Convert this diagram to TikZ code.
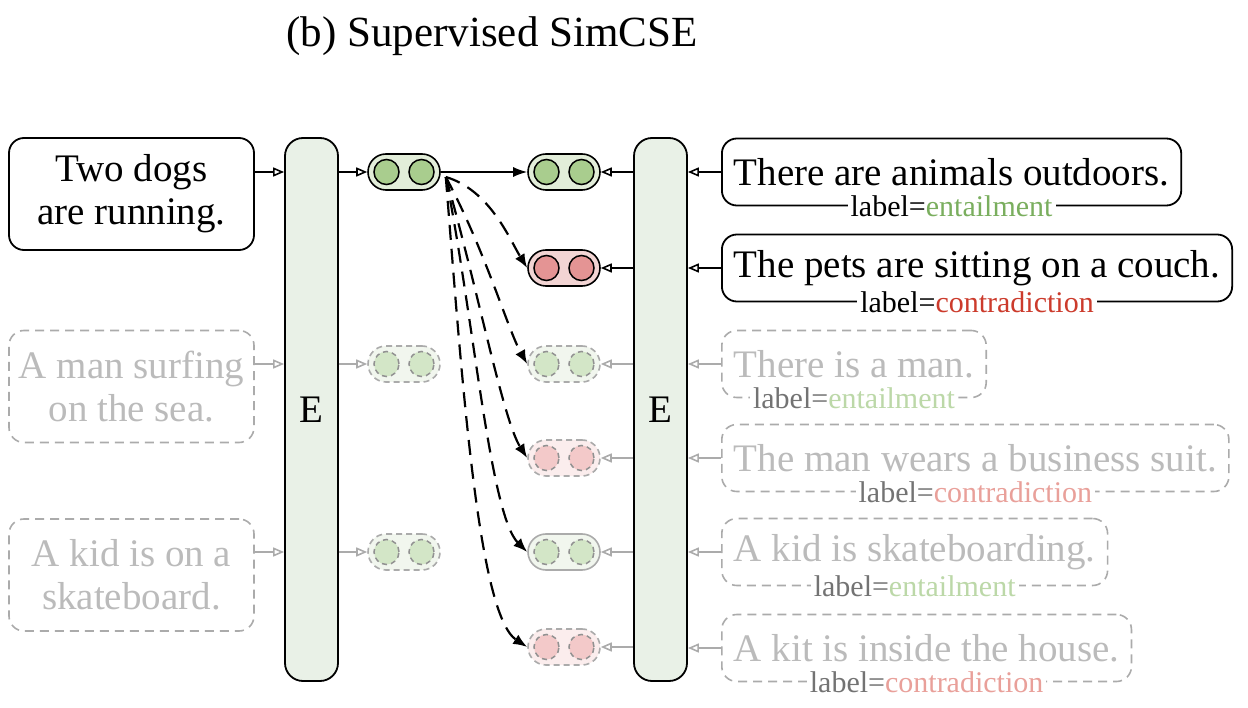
\documentclass[tikz,border=0pt]{standalone}
\usepackage{fontspec}
\setmainfont{Liberation Serif}
\usetikzlibrary{arrows.meta,calc}
\definecolor{encfill}{HTML}{E9F1E7}
\definecolor{pg}{HTML}{E2EDD9}
\definecolor{cg}{HTML}{A9CD8E}
\definecolor{pr}{HTML}{F2D4D3}
\definecolor{cr}{HTML}{E49494}
\definecolor{fpg}{HTML}{F1F6EE}
\definecolor{fcg}{HTML}{D3E6C7}
\definecolor{fpr}{HTML}{FBEDED}
\definecolor{fcr}{HTML}{F3C9C9}
\definecolor{fadeline}{HTML}{ABABAB}
\definecolor{fadetext}{HTML}{BBBBBB}
\definecolor{fadelab}{HTML}{737373}
\definecolor{entc}{HTML}{7AAE5E}
\definecolor{conc}{HTML}{CC3B2C}
\definecolor{fentc}{HTML}{BCD8A8}
\definecolor{fconc}{HTML}{E9A09A}
\newcommand\mypill[5]{%
  \node[pillbase,#4] (#1) at (#2,#3) {};
  \node[circbase,#5] (#1a) at ($(#1)+(-17.5,0)$) {};
  \node[circbase,#5] (#1b) at ($(#1)+(17.5,0)$) {};
}
\tikzset{
  bigfont/.style={font=\fontsize{39}{43}\selectfont},
  sbox/.style={draw, rounded corners=15pt, line width=1.8pt, align=center, bigfont},
  fbox/.style={draw=fadeline, dash pattern=on 9pt off 6pt, rounded corners=15pt, line width=1.6pt, align=center, bigfont, text=fadetext},
  rbox/.style={anchor=west, minimum height=67pt, inner xsep=12pt, inner ysep=0pt},
  labnode/.style={fill=white, inner xsep=3pt, inner ysep=0pt, font=\fontsize{30}{32}\selectfont},
  enc/.style={draw, fill=encfill, rounded corners=18pt, line width=1.8pt, minimum width=53pt, minimum height=543pt, bigfont},
  pillbase/.style={rectangle, rounded corners=18pt, minimum width=72pt, minimum height=36pt, line width=1.6pt},
  circbase/.style={circle, minimum size=25pt, inner sep=0pt, line width=1.5pt},
  pG/.style={draw, fill=pg}, cG/.style={draw, fill=cg},
  pR/.style={draw, fill=pr}, cR/.style={draw, fill=cr},
  fpG/.style={draw=fadeline, fill=fpg, dash pattern=on 6pt off 4pt},
  fpGs/.style={draw=fadeline, fill=fpg},
  fcG/.style={draw=fadeline!85!black, fill=fcg, dash pattern=on 5pt off 4pt},
  fpR/.style={draw=fadeline, fill=fpr, dash pattern=on 6pt off 4pt},
  fcR/.style={draw=fadeline!85!black, fill=fcr, dash pattern=on 5pt off 4pt},
  oarr/.style={-{Triangle[open,length=11pt,width=9pt]}, line width=1.6pt},
  foarr/.style={oarr, draw=fadeline},
  sarr/.style={-{Latex[length=14pt,width=10pt]}, line width=1.6pt},
  darr/.style={-{Latex[length=14pt,width=11pt]}, line width=2.2pt, dash pattern=on 15pt off 9pt},
}
\begin{document}
\begin{tikzpicture}
\useasboundingbox (0,-708pt) rectangle (1248pt,0);
\begin{scope}[x=1pt,y=1pt]
\node[font=\fontsize{43}{48}\selectfont] (title) at (492,-36) {(b) Supervised SimCSE};

% left sentences
\node[sbox, minimum width=245pt, minimum height=112pt] (l1) at (131.5,-194) {Two dogs\\are running.};
\node[fbox, minimum width=245pt, minimum height=112pt] (l2) at (131.5,-386.5) {A man surfing\\on the sea.};
\node[fbox, minimum width=245pt, minimum height=112pt] (l3) at (131.5,-575) {A kid is on a\\skateboard.};

% encoders
\node[enc] (E1) at (311.5,-409.5) {E};
\node[enc] (E2) at (660.5,-409.5) {E};

% pills
\mypill{pL1}{404}{-172}{pG}{cG}
\mypill{pL2}{404}{-364}{fpG}{fcG}
\mypill{pL3}{404}{-552}{fpG}{fcG}
\mypill{pR1}{564}{-172}{pG}{cG}
\mypill{pR2}{564}{-268}{pR}{cR}
\mypill{pR3}{564}{-364}{fpG}{fcG}
\mypill{pR4}{564}{-458}{fpR}{fcR}
\mypill{pR5}{564}{-552}{fpGs}{fcG}
\mypill{pR6}{564}{-647}{fpR}{fcR}

% right sentences
\node[sbox, rbox] (r1) at (721,-172) {There are animals outdoors.};
\node[labnode] (r1l) at (r1.south) {label=\textcolor{entc}{entailment}};
\node[sbox, rbox] (r2) at (721,-268) {The pets are sitting on a couch.};
\node[labnode] (r2l) at (r2.south) {label=\textcolor{conc}{contradiction}};
\node[fbox, rbox] (r3) at (721,-364) {There is a man.};
\node[labnode, text=fadelab] (r3l) at (r3.south) {label=\textcolor{fentc}{entailment}};
\node[fbox, rbox] (r4) at (721,-458) {The man wears a business suit.};
\node[labnode, text=fadelab] (r4l) at (r4.south) {label=\textcolor{fconc}{contradiction}};
\node[fbox, rbox] (r5) at (721,-552) {A kid is skateboarding.};
\node[labnode, text=fadelab] (r5l) at (r5.south) {label=\textcolor{fentc}{entailment}};
\node[fbox, rbox] (r6) at (721,-648) {A kit is inside the house.};
\node[labnode, text=fadelab] (r6l) at (r6.south) {label=\textcolor{fconc}{contradiction}};

% left arrows
\draw[oarr] (l1.east |- pL1) -- (E1.west |- pL1);
\draw[oarr] (E1.east |- pL1) -- (pL1.west);
\draw[foarr] (l2.east |- pL2) -- (E1.west |- pL2);
\draw[foarr] (E1.east |- pL2) -- (pL2.west);
\draw[foarr] (l3.east |- pL3) -- (E1.west |- pL3);
\draw[foarr] (E1.east |- pL3) -- (pL3.west);

% right arrows
\draw[oarr] (r1.west) -- (E2.east |- r1.west);
\draw[oarr] (E2.west |- pR1) -- (pR1.east);
\draw[oarr] (r2.west) -- (E2.east |- r2.west);
\draw[oarr] (E2.west |- pR2) -- (pR2.east);
\draw[foarr] (r3.west) -- (E2.east |- r3.west);
\draw[foarr] (E2.west |- pR3) -- (pR3.east);
\draw[foarr] (r4.west) -- (E2.east |- r4.west);
\draw[foarr] (E2.west |- pR4) -- (pR4.east);
\draw[foarr] (r5.west) -- (E2.east |- r5.west);
\draw[foarr] (E2.west |- pR5) -- (pR5.east);
\draw[foarr] (r6.west) -- (E2.east |- r6.west);
\draw[foarr] (E2.west |- pR6) -- (pR6.east);

% similarity arrows
\draw[sarr] (pL1.east) -- (pR1.west);
\coordinate (ds) at ($(pL1.east)+(5,-5)$);
\draw[darr] (ds) .. controls (490,-190) and (510,-240) .. (pR2.west);
\draw[darr] (ds) .. controls (485,-250) and (508,-330) .. (pR3.west);
\draw[darr] (ds) .. controls (478,-290) and (503,-420) .. (pR4.west);
\draw[darr] (ds) .. controls (474,-320) and (490,-515) .. (pR5.west);
\draw[darr] (ds) .. controls (462,-380) and (478,-615) .. (pR6.west);
\end{scope}
\end{tikzpicture}
\end{document}
